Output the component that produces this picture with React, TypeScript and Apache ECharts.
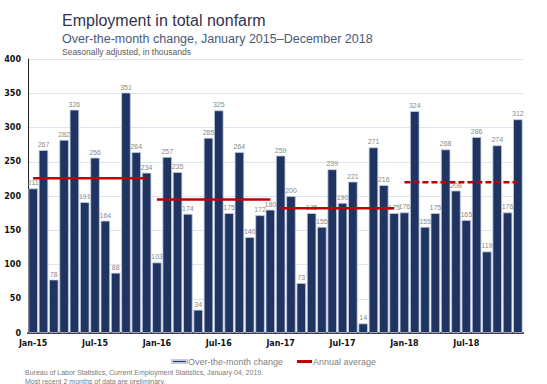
import React, { useEffect, useRef } from "react";
import * as echarts from "echarts";

const years = ["15", "16", "17", "18"];
const months = ["Jan", "Feb", "Mar", "Apr", "May", "Jun", "Jul", "Aug", "Sep", "Oct", "Nov", "Dec"];
const categories: string[] = years.flatMap((y) => months.map((m) => `${m}-${y}`));

const change2015 = [211, 267, 78, 282, 326, 191, 256, 164, 88, 351, 264, 234];
const change2016 = [103, 257, 235, 174, 34, 285, 325, 175, 264, 140, 172, 180];
const change2017 = [259, 200, 73, 175, 155, 239, 190, 221, 14, 271, 216, 175];
const change2018 = [176, 324, 155, 175, 268, 208, 165, 286, 119, 274, 176, 312];
const monthlyChange = [...change2015, ...change2016, ...change2017, ...change2018];

const annualAverage = [226, 195, 182, 220];
const yTicks = { min: 0, max: 400, interval: 50 };

const NAVY = "#1f3461";
const RED = "#c00000";
const SANS = "'Liberation Sans'";

function yearLine(i: number) {
  return categories.map((_, k) => (Math.floor(k / 12) === i ? annualAverage[i] : null));
}

export default function App() {
  const ref = useRef<HTMLDivElement>(null);
  useEffect(() => {
    if (!ref.current) return;
    const chart = echarts.init(ref.current, undefined, { renderer: "svg" });
    const lineSeries = annualAverage.map((_, i) => ({
      name: "Annual average",
      type: "line" as const,
      data: yearLine(i),
      symbol: "none",
      connectNulls: false,
      z: 5,
      lineStyle: { color: RED, width: 2.5, type: i === 3 ? [6, 3] : "solid" },
      itemStyle: { color: RED },
    }));
    chart.setOption({
      animation: false,
      textStyle: { fontFamily: "DejaVu Sans" },
      graphic: [
        {
          type: "text",
          left: 62,
          top: 12,
          style: { text: "Employment in total nonfarm", font: `16px ${SANS}`, fill: "#33334a" },
        },
        {
          type: "text",
          left: 62,
          top: 32,
          style: {
            text: "Over-the-month change, January 2015\u2013December 2018",
            font: `12.5px ${SANS}`,
            fill: "#4a5a7a",
          },
        },
        {
          type: "text",
          left: 62,
          top: 47,
          style: { text: "Seasonally adjusted, in thousands", font: `8.5px ${SANS}`, fill: "#5a5a5a" },
        },
        {
          type: "text",
          left: 25,
          top: 369,
          style: {
            text: "Bureau of Labor Statistics, Current Employment Statistics, January 04, 2019.",
            font: `7px ${SANS}`,
            fill: "#7a7a7a",
          },
        },
        {
          type: "text",
          left: 25,
          top: 378,
          style: {
            text: "Most recent 2 months of data are preliminary.",
            font: `7px ${SANS}`,
            fill: "#7a7a7a",
          },
        },
      ],
      legend: {
        top: 352,
        left: "center",
        itemGap: 14,
        itemWidth: 15,
        itemHeight: 3,
        textStyle: { fontSize: 9, fontFamily: "Liberation Sans", color: "#7f7f7f", padding: [0, 0, 0, -4] },
        data: [
          { name: "Over-the-month change", icon: "rect", itemStyle: { color: NAVY } },
          { name: "Annual average", icon: "rect", itemStyle: { color: RED } },
        ],
      },
      grid: { left: 28, right: 24, top: 59, bottom: 51 },
      xAxis: {
        type: "category",
        data: categories,
        boundaryGap: true,
        axisLine: { lineStyle: { color: "#3a3a3a", width: 2 } },
        axisTick: { interval: 5, length: 4, lineStyle: { color: "#3a3a3a" } },
        axisLabel: { interval: 5, fontSize: 8, fontWeight: "bold", color: "#111", margin: 6 },
        splitLine: { show: false },
      },
      yAxis: {
        type: "value",
        min: yTicks.min,
        max: yTicks.max,
        interval: yTicks.interval,
        axisLine: { show: true, lineStyle: { color: "#222", width: 1 } },
        axisTick: { show: false },
        axisLabel: { fontSize: 8, fontWeight: "bold", color: "#111", margin: 7 },
        splitLine: { lineStyle: { color: "#dde5f1", width: 1 } },
      },
      series: [
        {
          name: "Over-the-month change",
          type: "bar",
          data: monthlyChange,
          barCategoryGap: "8%",
          itemStyle: { color: NAVY, borderColor: "#c3cbe0", borderWidth: 0.8 },
          label: {
            show: true,
            position: "top",
            distance: 2,
            fontSize: 7,
            fontFamily: "Liberation Sans",
            color: "#8a8a8a",
          },
          z: 2,
        },
        ...lineSeries,
      ],
    });
    return () => chart.dispose();
  }, []);
  return (
    <div
      ref={ref}
      style={{ position: "absolute", left: 0, top: 0, width: 547, height: 384, overflow: "hidden" }}
    />
  );
}
